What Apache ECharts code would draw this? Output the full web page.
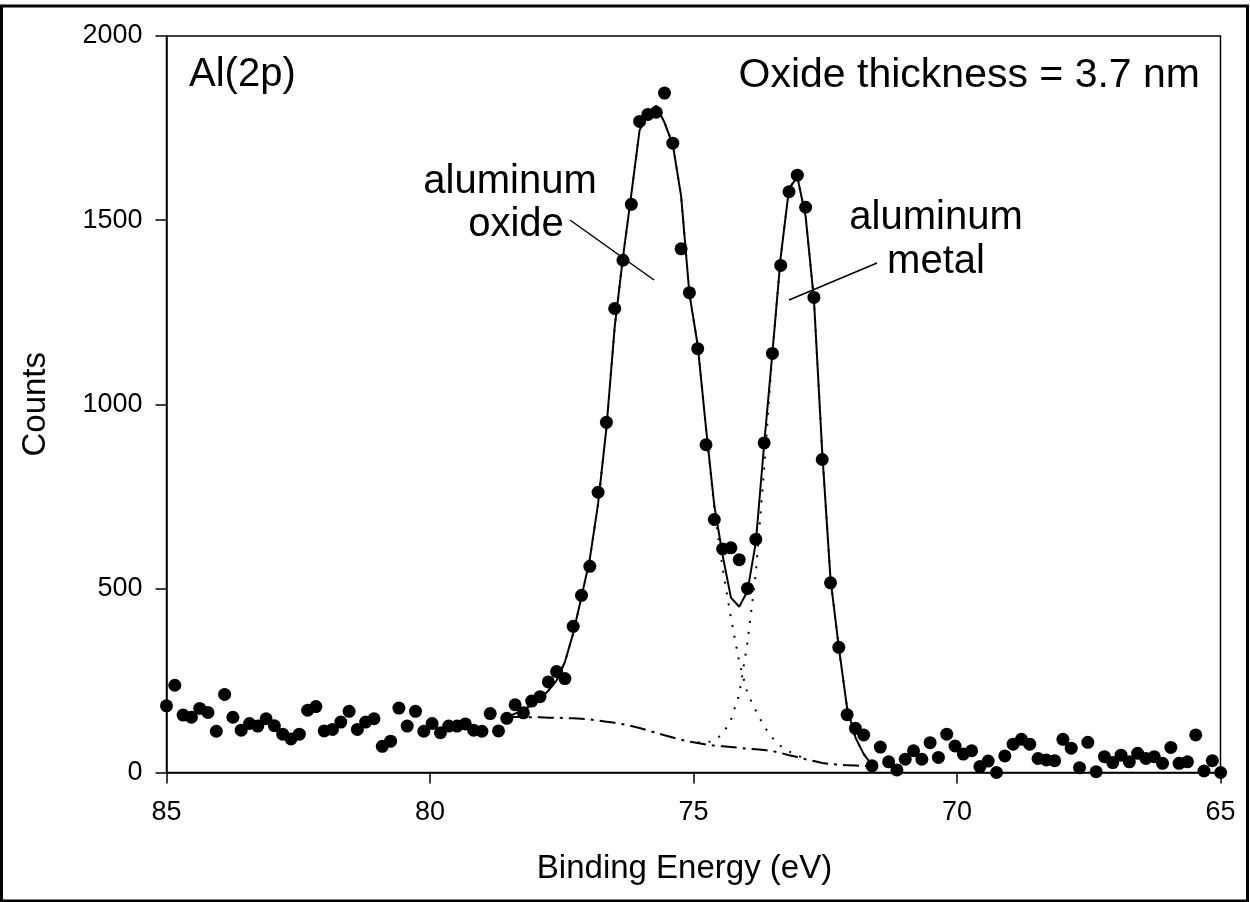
<!DOCTYPE html>
<html>
<head>
<meta charset="utf-8">
<script src="https://cdn.jsdelivr.net/npm/echarts@6/dist/echarts.min.js"></script>
<style>
html,body{margin:0;padding:0;background:#fff;}
#chart{width:1250px;height:902px;}
</style>
</head>
<body>
<div id="chart"></div>
<script>
// Binding energy grid (eV): first point and step
const energyStart = 85;
const energyStep = 0.1575;

// Measured counts (dots), one per energy step
const counts = [181,237,156,150,174,163,112,212,150,115,
  133,126,146,127,104,91,104,169,179,113,
  117,137,166,117,137,146,71,85,175,126,
  166,112,133,108,126,126,132,115,112,160,
  113,147,184,162,194,206,246,274,255,397,
  481,560,761,951,1260,1391,1543,1768,1787,1793,
  1845,1709,1422,1303,1151,890,687,607,610,578,
  500,633,895,1138,1377,1577,1622,1535,1290,850,
  515,340,157,120,102,18,69,29,7,36,
  59,36,81,41,104,72,50,59,16,31,
  0,45,77,90,77,38,34,32,90,66,
  13,82,2,43,27,47,29,52,38,43,
  25,68,25,29,102,4,32,0];

// Fitted curves, starting at grid index fitStart
const fitStart = 41;
const fitTotal = [150,160,170,183,200,222,250,300,378,477,
  580,730,935,1210,1400,1570,1745,1785,1810,1765,
  1705,1565,1300,1160,935,725,590,475,450,493,
  625,890,1140,1400,1585,1618,1510,1285,870,525,
  340,175,95,50,20];
const oxideFit = [150,160,170,183,200,222,250,300,378,477,
  580,730,935,1210,1400,1570,1745,1785,1810,1765,
  1705,1565,1300,1160,935,715,555,420,300,215,
  168,125,94,72,57,46,38];
const metalStart = 64;
const metalFit = [82,80,88,104,143,212,355,540,825,
  1140,1400,1585,1618,1510,1285,870,525,340,175,95,50,20];
const background = [152,151,151,150,150,149,149,148,147,146,
  144,141,138,135,131,126,121,114,108,101,
  95,89,84,80,76,73,71,69,67,65,
  63,61,58,53,47,42,36,31,26,23,
  21,20,19,18,17];

const xTicks = [65,70,75,80,85];
const yTicks = [0,500,1000,1500,2000];

const energyAt = i => energyStart - i * energyStep;
const pairs = (arr, start) => arr.map((v, k) => [energyAt(start + k), v]);

const FONT = 'Liberation Sans, Arial, sans-serif';
const chart = echarts.init(document.getElementById('chart'), null, {renderer: 'canvas'});

const option = {
  backgroundColor: '#fff',
  animation: false,
  grid: {left: 166.5, right: 29.5, top: 36, bottom: 129.5, show: true, borderColor: '#000', borderWidth: 1.5, backgroundColor: 'transparent'},
  xAxis: {
    type: 'value', min: xTicks[0], max: xTicks[xTicks.length - 1], interval: 5, inverse: true,
    name: 'Binding Energy (eV)', nameLocation: 'middle', nameGap: 80,
    nameTextStyle: {fontFamily: FONT, fontSize: 33, color: '#000', padding: [0, 18, 0, 0]},
    axisLine: {show: true, lineStyle: {color: '#000', width: 1.5}},
    axisTick: {show: true, length: 11, inside: false, lineStyle: {color: '#000', width: 1.5}},
    axisLabel: {fontFamily: FONT, fontSize: 27, color: '#000', margin: 27, formatter: v => String(v)},
    splitLine: {show: false}
  },
  yAxis: {
    type: 'value', min: yTicks[0], max: yTicks[yTicks.length - 1], interval: 500,
    name: 'Counts', nameLocation: 'middle', nameGap: 114,
    nameTextStyle: {fontFamily: FONT, fontSize: 33, color: '#000'},
    axisLine: {show: true, lineStyle: {color: '#000', width: 1.5}},
    axisTick: {show: true, length: 11, inside: false, lineStyle: {color: '#000', width: 1.5}},
    axisLabel: {fontFamily: FONT, fontSize: 27, color: '#000', margin: 24, formatter: v => String(v)},
    splitLine: {show: false}
  },
  series: [
    {type: 'line', data: pairs(background, fitStart), symbol: 'none', z: 2,
      lineStyle: {color: '#000', width: 2, type: [16, 6, 3, 6]}},
    {type: 'line', data: pairs(oxideFit, fitStart), symbol: 'none', z: 2,
      lineStyle: {color: '#000', width: 2, type: [2, 9]}},
    {type: 'line', data: pairs(metalFit, metalStart), symbol: 'none', z: 2,
      lineStyle: {color: '#000', width: 2, type: [2, 9]}},
    {type: 'line', data: pairs(fitTotal, fitStart), symbol: 'none', z: 3,
      lineStyle: {color: '#000', width: 2}},
    {type: 'scatter', data: counts.map((v, i) => [energyAt(i), v]), symbol: 'circle', symbolSize: 13,
      itemStyle: {color: '#000', opacity: 1}, clip: false, z: 4}
  ],
  graphic: [
    {type: 'rect', shape: {x: 1.5, y: 6, width: 1246, height: 895}, style: {fill: 'none', stroke: '#000', lineWidth: 3}, silent: true},
    {type: 'text', left: 189, top: 55, style: {text: 'Al(2p)', font: '40px ' + FONT, fill: '#000'}},
    {type: 'text', right: 50, top: 55, style: {text: 'Oxide thickness = 3.7 nm', font: '41px ' + FONT, fill: '#000'}},
    {type: 'text', x: 510, y: 182, style: {text: 'aluminum', font: '40px ' + FONT, fill: '#000', textAlign: 'center', textVerticalAlign: 'middle'}},
    {type: 'text', x: 516, y: 225, style: {text: 'oxide', font: '40px ' + FONT, fill: '#000', textAlign: 'center', textVerticalAlign: 'middle'}},
    {type: 'text', x: 936, y: 218, style: {text: 'aluminum', font: '40px ' + FONT, fill: '#000', textAlign: 'center', textVerticalAlign: 'middle'}},
    {type: 'text', x: 936, y: 262, style: {text: 'metal', font: '40px ' + FONT, fill: '#000', textAlign: 'center', textVerticalAlign: 'middle'}},
    {type: 'line', shape: {x1: 570, y1: 220, x2: 654, y2: 280}, style: {stroke: '#000', lineWidth: 1.5}},
    {type: 'line', shape: {x1: 877, y1: 263, x2: 789, y2: 300}, style: {stroke: '#000', lineWidth: 1.5}}
  ]
};
chart.setOption(option);
</script>
</body>
</html>
